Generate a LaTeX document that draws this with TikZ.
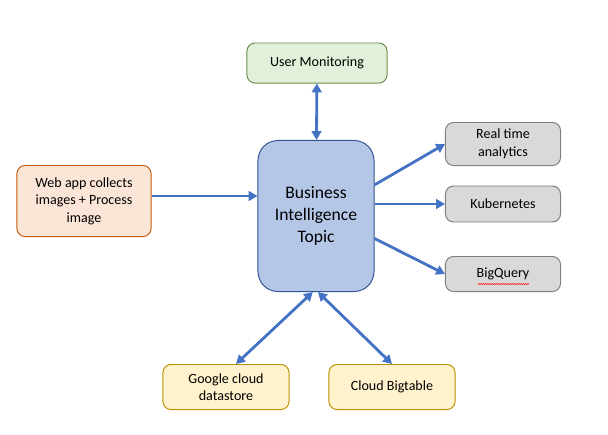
\documentclass[tikz,border=0pt]{standalone}
\usepackage{fontspec}
\setmainfont{Carlito}
\usepackage{tikz}
\usetikzlibrary{arrows.meta, positioning, decorations.pathmorphing}
\definecolor{linkcolor}{RGB}{68, 114, 196}
\definecolor{topicfill}{RGB}{180, 199, 231}
\definecolor{topicborder}{RGB}{47, 85, 151}
\definecolor{monfill}{RGB}{226, 240, 217}
\definecolor{monborder}{RGB}{107, 142, 78}
\definecolor{sinkfill}{RGB}{217, 217, 217}
\definecolor{sinkborder}{RGB}{127, 127, 127}
\definecolor{srcfill}{RGB}{251, 229, 214}
\definecolor{srcborder}{RGB}{197, 90, 17}
\definecolor{storefill}{RGB}{255, 242, 204}
\definecolor{storeborder}{RGB}{191, 144, 0}
\tikzstyle{box} = [rectangle, rounded corners=0.2cm, text centered, align=center,
                   line width=0.7pt, inner sep=2pt, font=\fontsize{10}{12.5}\selectfont]
\tikzstyle{sink} = [box, draw=sinkborder, fill=sinkfill, minimum width=2.875cm]
\tikzstyle{store} = [box, draw=storeborder, fill=storefill, minimum width=3.15cm, minimum height=1.125cm]
\tikzstyle{arrow} = [-{Triangle[length=2.2mm, width=2.4mm]}, line width=2pt, draw=linkcolor]
\tikzstyle{biarrow} = [{Triangle[length=2.2mm, width=2.4mm]}-{Triangle[length=2.2mm, width=2.4mm]}, line width=2pt, draw=linkcolor]

\begin{document}
\begin{tikzpicture}[x=0.025cm, y=-0.025cm]
    \useasboundingbox (0,0) rectangle (608,435);
    % centre topic
    \node[box, rounded corners=0.5cm, draw=topicborder, fill=topicfill, minimum width=2.9cm,
          minimum height=3.775cm, font=\fontsize{12.5}{15.5}\selectfont] (topic) at (316,216)
          {Business\\ Intelligence\\ Topic};
    % boxes round it
    \node[box, draw=monborder, fill=monfill, minimum width=3.5cm, minimum height=1cm] (monitor) at (317,63) {User Monitoring};
    \node[box, draw=srcborder, fill=srcfill, minimum width=3.35cm, minimum height=1.775cm] (webapp) at (84,201)
          {Web app collects\\ images + Process\\ image};
    \node[sink, minimum height=1.075cm] (realtime) at (503,144) {Real time\\ analytics};
    \node[sink, minimum height=0.9cm] (kube) at (503,204) {Kubernetes};
    \node[sink, minimum height=0.875cm] (bigquery) at (503,274) {BigQuery};
    \node[store] (datastore) at (226,387) {Google cloud\\ datastore};
    \node[store] (bigtable) at (392,387) {Cloud Bigtable};
    \draw[red, line width=0.4pt, decorate, decoration={snake, amplitude=0.35pt, segment length=1.6pt}]
        (478,284) -- (529,284);
    % links
    \draw[biarrow] (monitor) -- (topic);
    \draw[arrow] ([yshift=0.125cm]webapp.east) -- ([yshift=0.125cm]webapp.east -| topic.west);
    \draw[arrow] (topic.28) -- (realtime.west);
    \draw[arrow] (topic.east |- kube.west) -- (kube.west);
    \draw[arrow] (topic.-21) -- (bigquery.west);
    \draw[biarrow] ([xshift=-0.08cm]topic.south) -- ([xshift=0.25cm]datastore.north);
    \draw[biarrow] ([xshift=0.05cm]topic.south) -- (bigtable.north);
\end{tikzpicture}
\end{document}
